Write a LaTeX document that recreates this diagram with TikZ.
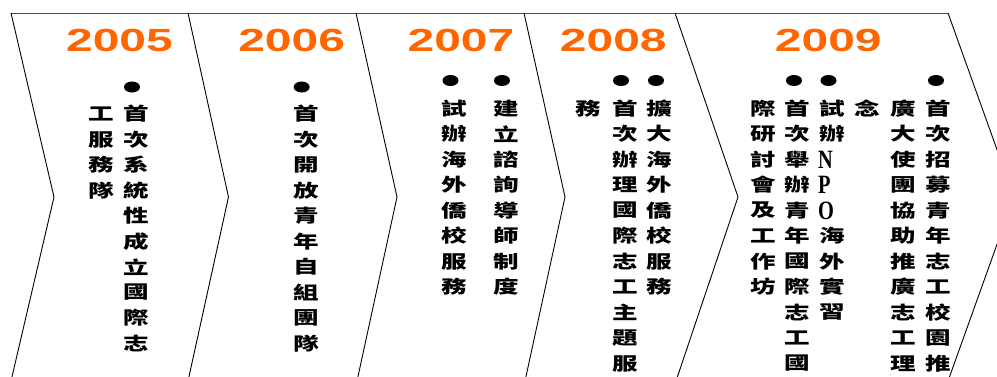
\documentclass[tikz,border=0pt]{standalone}
\usepackage{fontspec}
\newfontfamily\cjk{Noto Sans CJK TC}
\newfontfamily\yearfont{Liberation Sans}
\newfontfamily\latinserif{Liberation Serif}
\usetikzlibrary{shapes.geometric}
\definecolor{yearorange}{HTML}{FF6600}
\newcommand\hstretch[1]{\scalebox{1.42}[1]{#1}}
\newcommand\yearbox[1]{\scalebox{1.5}[1]{#1}}
\newcommand\latinbox[1]{\scalebox{0.85}[1.1]{#1}}
\newcommand\vcolumn[4]{%
  \foreach \c [count=\i] in {#4} {\node[ch] (#1-\i) at (#2, #3+25.5*\i-25.5) {\hstretch{\c}};}}
\tikzset{
  divider/.style={black, line width=0.9pt, line join=miter},
  topline/.style={black!70, line width=0.9pt},
  year/.style={font=\yearfont\bfseries\fontsize{32}{32}\selectfont, text=yearorange, inner sep=0pt},
  ch/.style={font=\cjk\bfseries\fontsize{18}{18}\selectfont, inner sep=0pt},
  latinch/.style={font=\latinserif\bfseries\fontsize{24}{24}\selectfont, inner sep=0pt, anchor=west},
  bul/.style={ellipse, fill=black, minimum width=16pt, minimum height=11pt, inner sep=0pt}
}
\begin{document}
\begin{tikzpicture}[x=1pt,y=-1pt]
\useasboundingbox (0,0) rectangle (997,376);
\fill[white] (0,0) rectangle (997,376);
\begin{scope}
\clip (0,0) rectangle (997,376);
\draw[topline] (11,13) -- (948,13);
\draw[divider] (11,13) -- (54,197) -- (11,381);
\draw[divider] (188,13) -- (228.5,197) -- (188,381);
\draw[divider] (356,13) -- (397,197) -- (357,381);
\draw[divider] (524,13) -- (565,197) -- (525,381);
\draw[divider] (675,13) -- (738,197) -- (676,381);
\draw[divider] (948,13) -- (1014,197) -- (948,381);
\end{scope}
% years
\node[year] (y2005) at (119.5,40) {\yearbox{2005}};
\node[year] (y2006) at (291.7,40) {\yearbox{2006}};
\node[year] (y2007) at (461,40) {\yearbox{2007}};
\node[year] (y2008) at (613.3,40) {\yearbox{2008}};
\node[year] (y2009) at (828.3,40) {\yearbox{2009}};
% bullets
\node[bul] (b1) at (132,87) {};
\node[bul] (b2) at (301.7,87) {};
\node[bul] (b3) at (450.5,80.5) {};
\node[bul] (b4) at (502,80.5) {};
\node[bul] (b5) at (621,80.5) {};
\node[bul] (b6) at (656,80.5) {};
\node[bul] (b7) at (794,80.5) {};
\node[bul] (b8) at (828.5,80.5) {};
\node[bul] (b9) at (936,80.5) {};
% 2005
\vcolumn{a1}{136}{114}{首,次,系,統,性,成,立,國,際,志}
\vcolumn{a2}{101}{114}{工,服,務,隊}
% 2006
\vcolumn{b1c}{306}{114}{首,次,開,放,青,年,自,組,團,隊}
% 2007
\vcolumn{c1}{454.5}{108.5}{試,辦,海,外,僑,校,服,務}
\vcolumn{c2}{506.5}{108.5}{建,立,諮,詢,導,師,制,度}
% 2008
\vcolumn{d1}{659.5}{108.5}{擴,大,海,外,僑,校,服,務}
\vcolumn{d2}{625}{108.5}{首,次,辦,理,國,際,志,工,主,題,服}
\vcolumn{d3}{588.5}{108.5}{務}
% 2009
\vcolumn{e1}{938.5}{108.5}{首,次,招,募,青,年,志,工,校,園,推}
\vcolumn{e2}{903.5}{108.5}{廣,大,使,團,協,助,推,廣,志,工,理}
\vcolumn{e3}{867.5}{108.5}{念}
\vcolumn{e4}{832.5}{108.5}{試,辦}
\node[latinch] (eN) at (818,159.5) {\latinbox{N}};
\node[latinch] (eP) at (818,185) {\latinbox{P}};
\node[latinch] (eO) at (818,210.5) {\latinbox{O}};
\node[ch] (e4-6) at (832.5,236) {\hstretch{海}};
\node[ch] (e4-7) at (832.5,261.5) {\hstretch{外}};
\node[ch] (e4-8) at (832.5,287) {\hstretch{實}};
\node[ch] (e4-9) at (832.5,312.5) {\hstretch{習}};
\vcolumn{e5}{797}{108.5}{首,次,舉,辦,青,年,國,際,志,工,國}
\vcolumn{e6}{763.5}{108.5}{際,研,討,會,及,工,作,坊}
\end{tikzpicture}
\end{document}
